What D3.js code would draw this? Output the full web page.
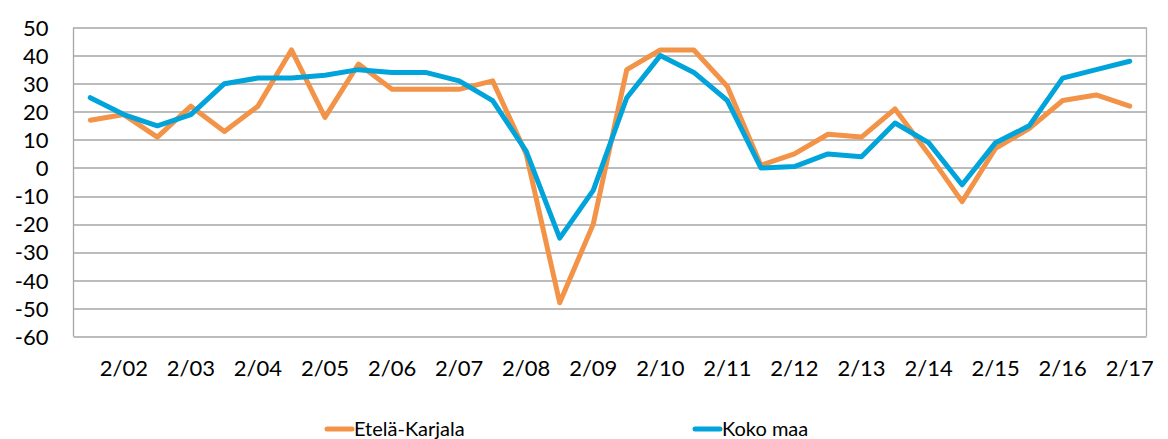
<!DOCTYPE html>
<html>
<head>
<meta charset="utf-8">
<script src="https://cdn.jsdelivr.net/npm/d3@7"></script>
<style>
  body { margin: 0; background: #fff; }
  #wrapper text { font-family: Lato, 'Open Sans', sans-serif; fill: #000; }
</style>
</head>
<body>
<div id="wrapper"></div>
<script>
const periods = [
  '1/02', '2/02', '1/03', '2/03', '1/04', '2/04', '1/05', '2/05',
  '1/06', '2/06', '1/07', '2/07', '1/08', '2/08', '1/09', '2/09',
  '1/10', '2/10', '1/11', '2/11', '1/12', '2/12', '1/13', '2/13',
  '1/14', '2/14', '1/15', '2/15', '1/16', '2/16', '1/17', '2/17',
]
const tickLabels = [
  '2/02', '2/03', '2/04', '2/05', '2/06', '2/07', '2/08', '2/09',
  '2/10', '2/11', '2/12', '2/13', '2/14', '2/15', '2/16', '2/17',
]
const etelaKarjala = [
  17, 19, 11, 22, 13, 22, 42, 18, 37, 28, 28, 28, 31, 5, -48, -20,
  35, 42, 42, 29, 1, 5, 12, 11, 21, 5, -12, 7, 14, 24, 26, 22,
]
const kokoMaa = [
  25, 19, 15, 19, 30, 32, 32, 33, 35, 34, 34, 31, 24, 6, -25, -8,
  25, 40, 34, 24, 0, 0.5, 5, 4, 16, 9, -6, 9, 15, 32, 35, 38,
]
const yTicks = [50, 40, 30, 20, 10, 0, -10, -20, -30, -40, -50, -60]
const seriesNames = ['Etelä-Karjala', 'Koko maa']
const colors = ['#f39348', '#00a4db']

function drawChart() {
  const dimensions = {
    width: 1168,
    height: 439,
    margin: {
      top: 27.5,
      right: 21.5,
      bottom: 102.5,
      left: 73.5,
    },
  }
  dimensions.boundedWidth = dimensions.width
    - dimensions.margin.left
    - dimensions.margin.right
  dimensions.boundedHeight = dimensions.height
    - dimensions.margin.top
    - dimensions.margin.bottom

  const wrapper = d3.select('#wrapper')
    .append('svg')
    .attr('width', dimensions.width)
    .attr('height', dimensions.height)

  const bounds = wrapper.append('g')
    .attr('transform', `translate(${dimensions.margin.left},${dimensions.margin.top})`)

  const xScale = d3.scaleBand()
    .domain(periods)
    .range([0, dimensions.boundedWidth])
  const xCenter = p => xScale(p) + xScale.bandwidth() / 2

  const yScale = d3.scaleLinear()
    .domain([-60, 50])
    .range([dimensions.boundedHeight, 0])

  // grid
  bounds.append('g')
    .selectAll('line')
    .data(yTicks)
    .enter().append('line')
    .attr('x1', 0)
    .attr('x2', dimensions.boundedWidth)
    .attr('y1', d => Math.round(yScale(d)) + 0.5)
    .attr('y2', d => Math.round(yScale(d)) + 0.5)
    .attr('stroke', '#a6a6a6')
    .attr('stroke-width', 1.3)

  // left axis line and right border
  bounds.append('line')
    .attr('x1', 0).attr('x2', 0)
    .attr('y1', yScale(50)).attr('y2', yScale(-60))
    .attr('stroke', '#a6a6a6').attr('stroke-width', 1.3)
  bounds.append('line')
    .attr('x1', dimensions.boundedWidth).attr('x2', dimensions.boundedWidth)
    .attr('y1', yScale(50)).attr('y2', yScale(-60))
    .attr('stroke', '#b0b0b0').attr('stroke-width', 1.3)

  const yAxisGenerator = d3.axisLeft(yScale)
    .tickValues(yTicks)
    .tickSize(0)
    .tickPadding(25)
    .tickFormat(d => d)
  const yAxis = bounds.append('g').call(yAxisGenerator)
  yAxis.select('.domain').remove()
  yAxis.selectAll('text')
    .attr('font-size', 22)
    .attr('dy', '0.35em')

  const xAxisGenerator = d3.axisBottom(xScale)
    .tickValues(tickLabels)
    .tickSize(0)
    .tickPadding(24)
  const xAxis = bounds.append('g')
    .attr('transform', `translate(0,${dimensions.boundedHeight})`)
    .call(xAxisGenerator)
  xAxis.select('.domain').remove()
  xAxis.selectAll('text')
    .attr('font-size', 22)
    .attr('dy', '0.72em')

  const lineGenerator = d3.line()
    .x((d, i) => xCenter(periods[i]))
    .y(d => yScale(d))

  ;[etelaKarjala, kokoMaa].forEach((values, i) => {
    bounds.append('path')
      .datum(values)
      .attr('d', lineGenerator)
      .attr('fill', 'none')
      .attr('stroke', colors[i])
      .attr('stroke-width', 5)
      .attr('stroke-linejoin', 'round')
      .attr('stroke-linecap', 'round')
  })

  // legend
  const legendX = [327, 695]
  const legend = wrapper.append('g')
    .selectAll('g')
    .data(seriesNames)
    .enter().append('g')
    .attr('transform', (d, i) => `translate(${legendX[i]},429)`)
  legend.append('line')
    .attr('x1', 0).attr('x2', 25)
    .attr('stroke', (d, i) => colors[i])
    .attr('stroke-width', 5)
    .attr('stroke-linecap', 'round')
  legend.append('text')
    .attr('x', 27)
    .attr('y', 0)
    .attr('dy', '0.36em')
    .attr('font-size', 20)
    .text(d => d)
}

drawChart()
</script>
</body>
</html>
